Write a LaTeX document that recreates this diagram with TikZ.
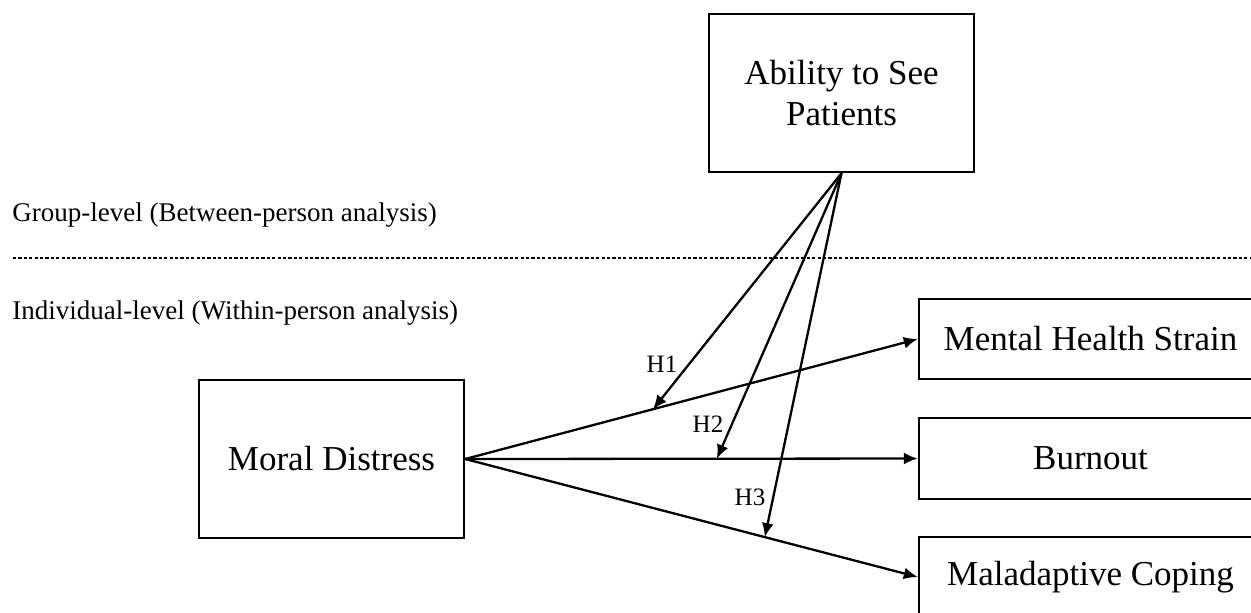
\documentclass[tikz,border=0pt]{standalone}
\usepackage{fontspec}
\setmainfont{Liberation Serif}
\usetikzlibrary{arrows.meta}
\begin{document}
\begin{tikzpicture}[x=0.5pt,y=-0.5pt,
  box/.style={draw,line width=1.2pt,inner sep=0pt,align=center,font=\fontsize{17.5}{20.5}\selectfont},
  lbl/.style={anchor=west,inner sep=0pt,font=\fontsize{13.5}{16}\selectfont},
  hyp/.style={inner sep=0pt,font=\fontsize{12.5}{14}\selectfont},
  arr/.style={line width=1.15pt,-{Latex[length=7pt,width=6pt]}}]
\useasboundingbox (0,0) rectangle (1251,612);
\clip (0,0) rectangle (1251,612);
\node[box,minimum width=132.5pt,minimum height=79pt] (abil) at (841.5,93) {Ability to See\\Patients};
\node[box,minimum width=132.5pt,minimum height=79pt] (moral) at (331.5,459) {Moral Distress};
\node[box,minimum width=171.5pt,minimum height=40pt] (mhs) at (1090.5,339) {Mental Health Strain};
\node[box,minimum width=171.5pt,minimum height=40.5pt] (burn) at (1090.5,458.5) {Burnout};
\node[box,minimum width=171.5pt,minimum height=40pt] (malc) at (1090.5,577) {Maladaptive Coping};
\node[lbl] (grp) at (12,215) {Group-level (Between-person analysis)};
\node[lbl] (ind) at (12,313) {Individual-level (Within-person analysis)};
\coordinate (dl) at (13,258);
\coordinate (dr) at (1251,258);
\draw[line width=0.6pt,dash pattern=on 1.6pt off 1.1pt] (dl) -- (dr);
\draw[arr] (moral.east) -- (mhs.west) coordinate[pos=0.415] (h1);
\draw[arr] (moral.east) -- (burn.west) coordinate[pos=0.556] (h2);
\draw[arr] (moral.east) -- (malc.west) coordinate[pos=0.662] (h3);
\draw[arr] (abil.south) -- (h1);
\draw[arr] (abil.south) -- (h2);
\draw[arr] (abil.south) -- (h3);
\node[hyp] (t1) at (662,364) {H1};
\node[hyp] (t2) at (708,424) {H2};
\node[hyp] (t3) at (750,497) {H3};
\end{tikzpicture}
\end{document}
